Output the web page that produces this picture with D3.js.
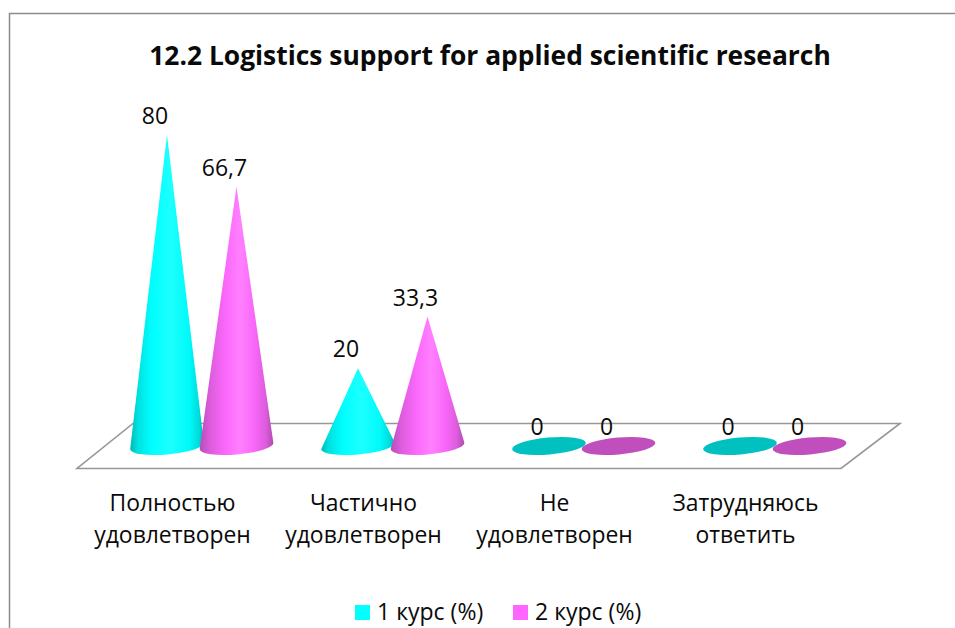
<!DOCTYPE html>
<html><head><meta charset="utf-8">
<script src="https://cdn.jsdelivr.net/npm/d3@7/dist/d3.min.js"></script>
<style>html,body{margin:0;padding:0;background:#fff;overflow:hidden}svg{display:block}text{font-family:"Open Sans",sans-serif;fill:#0a0a0a}</style>
</head><body>
<script>
const title = "12.2 Logistics support for applied scientific research";
const categories = ["Полностью удовлетворен", "Частично удовлетворен", "Не удовлетворен", "Затрудняюсь ответить"];
const categoryLines = [["Полностью","удовлетворен"],["Частично","удовлетворен"],["Не","удовлетворен"],["Затрудняюсь","ответить"]];
const seriesNames = ["1 курс (%)", "2 курс (%)"];
const course1 = [80, 20, 0, 0];
const course2 = [66.7, 33.3, 0, 0];
const valueLabels1 = ["80", "20", "0", "0"];
const valueLabels2 = ["66,7", "33,3", "0", "0"];

const W = 955, H = 628;
const svg = d3.select("body").append("svg").attr("width", W).attr("height", H);
const defs = svg.append("defs");

function grad(id, stops){
  const g = defs.append("linearGradient").attr("id", id).attr("x1",0).attr("x2",1).attr("y1",0).attr("y2",0);
  stops.forEach(s => g.append("stop").attr("offset", s[0]).attr("stop-color", s[1]));
}
grad("g0", [[0,"#00b8b8"],[.1,"#00e0e0"],[.3,"#00ffff"],[.55,"#1cffff"],[.8,"#00fafa"],[.93,"#00dcdc"],[1,"#00b4b4"]]);
grad("g1", [[0,"#b84cb8"],[.14,"#dc5cdc"],[.35,"#fb68fb"],[.55,"#ff80ff"],[.75,"#f866f8"],[.9,"#dc5cdc"],[1,"#b04ab0"]]);
const flat = ["#00c0c0", "#c04fbd"];
const swatch = ["#00ffff", "#ff66ff"];

// chart frame
svg.append("path").attr("d", `M9.5,${H} V13.5 H${W}`).attr("fill","none").attr("stroke","#8c8c8c").attr("stroke-width",1.5);

// title
svg.append("text").attr("x",490).attr("y",65).attr("text-anchor","middle")
  .attr("font-size",26.4).attr("font-weight",700).text(title);

// floor
svg.append("path").attr("d","M133,423.5 H900 L841,468.5 H77 Z")
  .attr("fill","#fff").attr("stroke","#979797").attr("stroke-width",1.6);

// scales
const x = d3.scaleBand().domain(categories).range([106.5, 870.5]);
const y = d3.scaleLinear().domain([0,80]).range([446,135]);
const offset = d3.scaleOrdinal().domain([0,1]).range([-35,34.5]);
const rx = 37, ry = 8.5, tilt = -5, rad = tilt*Math.PI/180;

function cone(cx, v){
  const by = y(0), tip = y(v);
  const dx = rx*Math.cos(rad), dy = rx*Math.sin(rad);
  return `M${cx},${tip} L${cx-dx},${by-dy} A${rx},${ry} ${tilt} 0 0 ${cx+dx},${by+dy} Z`;
}

[course1, course2].forEach((vals, s) => {
  const gr = svg.append("g");
  categories.forEach((c, i) => {
    const cx = x(c) + x.bandwidth()/2 + offset(s);
    if (vals[i] === 0) {
      gr.append("ellipse").attr("rx",rx).attr("ry",ry)
        .attr("transform",`translate(${cx},${y(0)}) rotate(${tilt})`)
        .attr("fill",flat[s]);
    } else {
      gr.append("path").attr("d",cone(cx, vals[i])).attr("fill",`url(#g${s})`);
    }
  });
});

// value labels
[[course1,valueLabels1],[course2,valueLabels2]].forEach(([vals,labs], s) => {
  categories.forEach((c,i) => {
    svg.append("text").attr("x", x(c)+x.bandwidth()/2+offset(s)-12)
      .attr("y", y(vals[i])-11).attr("text-anchor","middle").attr("font-size",23).text(labs[i]);
  });
});

// category labels
categories.forEach((c,i) => {
  const t = svg.append("text").attr("text-anchor","middle").attr("font-size",22.9);
  categoryLines[i].forEach((l,k) => t.append("tspan")
    .attr("x", x(c)+x.bandwidth()/2-29.5).attr("y", 511+k*32).text(l));
});

// legend
const legendX = [355, 513], legendTextX = [377, 535];
seriesNames.forEach((n,s) => {
  svg.append("rect").attr("x",legendX[s]).attr("y",605).attr("width",15).attr("height",15).attr("fill",swatch[s]);
  svg.append("text").attr("x",legendTextX[s]).attr("y",620).attr("font-size",23).text(n);
});
</script>
</body></html>
